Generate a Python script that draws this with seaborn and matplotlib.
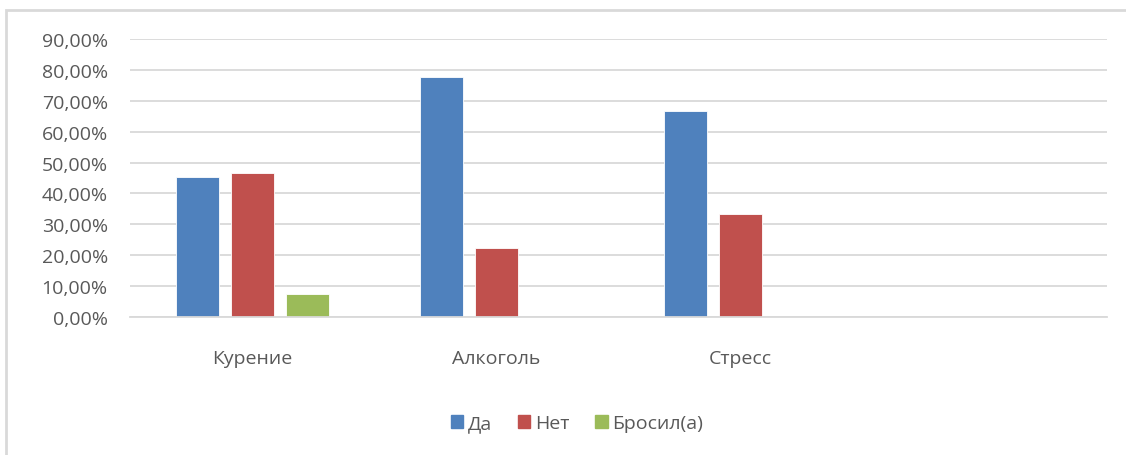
import matplotlib
matplotlib.use("Agg")
import matplotlib.pyplot as plt
import matplotlib.patches as mpatches
from matplotlib.ticker import FuncFormatter, MultipleLocator
import seaborn as sns
import pandas as pd

categories = ["Курение", "Алкоголь", "Стресс"]
series = ["Да", "Нет", "Бросил(а)"]
da = [0.453, 0.778, 0.667]
net = [0.467, 0.222, 0.333]
brosil = [0.073, 0.0, 0.0]
colors = ["#4F81BD", "#C0504D", "#9BBB59"]

rows = []
for i, c in enumerate(categories):
    for s, vals in zip(series, [da, net, brosil]):
        rows.append({"cat": c, "series": s, "val": vals[i]})
df = pd.DataFrame(rows)

sns.set_theme(style="white")
plt.rcParams['font.family'] = ['Open Sans', 'DejaVu Sans']

fig = plt.figure(figsize=(11.26, 4.56), dpi=100)
ax = fig.add_axes([130/1126, 1-318/456, (1107-130)/1126, (318-40)/456])

sns.barplot(data=df, x="cat", y="val", hue="series", order=categories,
            hue_order=series, palette=colors, saturation=1, width=0.676, gap=0.22,
            edgecolor="white", linewidth=0.6, ax=ax, legend=True)

ax.set_xlim(-0.5, 3.5)
ax.set_ylim(0, 0.9)
ax.yaxis.set_major_locator(MultipleLocator(0.1))
ax.yaxis.set_major_formatter(FuncFormatter(lambda v, p: f"{v*100:.2f}%".replace(".", ",")))
ax.grid(axis="y", color="#D9D9D9", linewidth=1.3)
ax.set_axisbelow(True)
for s in ["top", "right", "left"]:
    ax.spines[s].set_visible(False)
ax.spines["bottom"].set_color("#D9D9D9")
ax.spines["bottom"].set_linewidth(1.3)
ax.set_xlabel("")
ax.set_ylabel("")
ax.tick_params(axis="x", length=0, pad=23, labelsize=14, labelcolor="#595959")
ax.tick_params(axis="y", length=0, pad=16, labelsize=14, labelcolor="#595959")

leg = ax.get_legend()
handles = [mpatches.Patch(color=c, label=s) for c, s in zip(colors, series)]
leg.remove()
fig.legend(handles=handles, labels=series, loc="center", bbox_to_anchor=(577/1126, 1-424/456),
           ncol=3, frameon=False, fontsize=14, handlelength=0.65, handleheight=0.65,
           handletextpad=0.25, columnspacing=1.3, labelcolor="#595959")

border = mpatches.Rectangle((6/1126, -0.1), 1.2, 1-11/456+0.1, transform=fig.transFigure,
                            fill=False, edgecolor="#D9D9D9", linewidth=2)
fig.patches.append(border)

fig.savefig("out.png", dpi=100)
